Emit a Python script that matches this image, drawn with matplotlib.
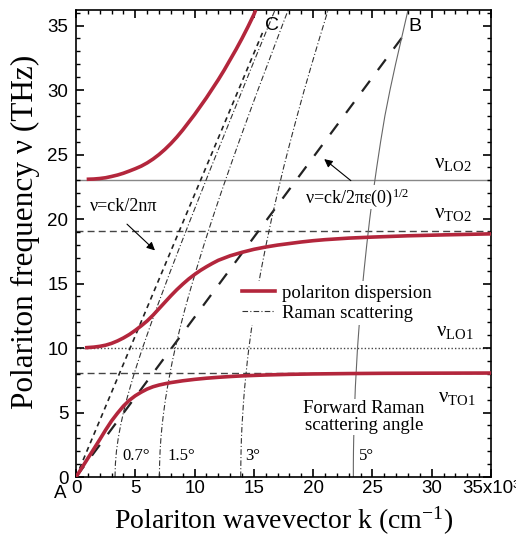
import matplotlib
matplotlib.use("Agg")
import matplotlib.pyplot as plt
from matplotlib.ticker import MultipleLocator, FixedLocator, FixedFormatter

plt.rcParams['font.family'] = ['Liberation Serif', 'DejaVu Serif']
plt.rcParams['mathtext.fontset'] = 'custom'
plt.rcParams['mathtext.rm'] = 'Liberation Serif'
plt.rcParams['mathtext.it'] = 'Liberation Serif:italic'

# phonon frequencies (THz)
nu_to1, nu_lo1, nu_to2, nu_lo2 = 8.1, 10.0, 19.1, 23.0

# polariton branches: k in 10^3 cm^-1, nu in THz
k_low = [0, 0.5, 1, 1.5, 2, 2.5, 3, 3.5, 4, 4.5, 5, 5.5, 6, 6.5, 7, 7.5, 8, 9, 10,
         11, 12, 13, 14, 16, 18, 20, 23, 26, 30, 35]
nu_low = [0, 0.72, 1.45, 2.17, 2.9, 3.65, 4.35, 4.95, 5.5, 5.95, 6.3, 6.58, 6.82, 7.0,
          7.13, 7.23, 7.32, 7.46, 7.57, 7.66, 7.73, 7.79, 7.84, 7.91, 7.96, 7.99, 8.02,
          8.04, 8.05, 8.06]

k_mid = [0.76, 1.5, 2, 2.5, 3, 3.5, 4, 4.5, 5, 5.5, 6, 6.5, 7, 7.5, 8, 8.5, 9, 9.5, 10,
         10.5, 11, 11.5, 12, 13, 14, 15, 16, 17, 18, 19, 20, 21, 23, 25, 28, 31, 35]
nu_mid = [10.02, 10.07, 10.13, 10.22, 10.36, 10.55, 10.78, 11.05, 11.37, 11.72, 12.1,
          12.55, 13.05, 13.55, 14.05, 14.52, 14.95, 15.35, 15.7, 16.02, 16.3, 16.56,
          16.8, 17.15, 17.42, 17.65, 17.83, 17.98, 18.1, 18.22, 18.32, 18.4, 18.52,
          18.6, 18.7, 18.77, 18.85]

k_up = [0.9, 1.5, 2, 2.5, 3, 3.5, 4, 4.5, 5, 5.5, 6, 6.5, 7, 7.5, 8, 8.5, 9, 9.5, 10,
        10.5, 11, 11.5, 12, 12.5, 13, 13.5, 14, 14.5, 15.0, 15.15]
nu_up = [23.08, 23.1, 23.14, 23.2, 23.3, 23.41, 23.55, 23.72, 23.9, 24.1, 24.35, 24.65,
         25.0, 25.4, 25.85, 26.35, 26.9, 27.5, 28.1, 28.75, 29.4, 30.1, 30.8, 31.55,
         32.35, 33.15, 34.0, 34.9, 35.85, 36.2]

# light lines through A
k_ac = [0, 15.8]
nu_ac = [0, 34.6]
k_ab = [0, 28.0]
nu_ab = [0, 34.7]

# forward Raman scattering curves
raman_nu = [0, 1, 2, 3, 4, 5, 6, 7, 8, 9, 10, 11.5, 13, 14.5, 16, 18, 20, 22, 24, 26,
            28, 30, 32, 34, 36.2]
k_r07 = [3.29, 3.32, 3.41, 3.56, 3.76, 4.0, 4.27, 4.58, 4.9, 5.25, 5.61, 6.18, 6.76,
         7.37, 7.98, 8.82, 9.67, 10.53, 11.39, 12.27, 13.15, 14.03, 14.91, 15.8, 16.78]
k_r15 = [7.03, 7.05, 7.09, 7.16, 7.26, 7.39, 7.54, 7.72, 7.92, 8.13, 8.37, 8.76, 9.18,
         9.64, 10.12, 10.79, 11.49, 12.22, 12.98, 13.75, 14.54, 15.34, 16.16, 16.98, 17.89]
k_r3 = [13.89, 13.9, 13.92, 13.95, 14.0, 14.07, 14.14, 14.23, 14.34, 14.45, 14.58, 14.8,
        15.04, 15.31, 15.6, 16.03, 16.49, 16.99, 17.51, 18.07, 18.65, 19.25, 19.88,
        20.53, 21.26]
k_r5 = [23.39, 23.39, 23.4, 23.42, 23.45, 23.48, 23.52, 23.56, 23.62, 23.68, 23.74,
        23.86, 23.98, 24.13, 24.29, 24.52, 24.77, 25.05, 25.36, 25.69, 26.05, 26.48,
        26.95, 27.45, 28.0]

angle_labels = ['0.7°', '1.5°', '3°', '5°']
angle_k = [5.06, 8.86, 14.93, 24.46]

red = '#b3263c'
raman_dash = (0, (5, 2, 1, 2))

fig = plt.figure(figsize=(5.16, 5.37), dpi=100)
ax = fig.add_axes([0.1473, 0.1117, 0.8043, 0.8696])

ax.axhline(nu_to1, color='#444444', lw=1.0, ls=(0, (5, 3)), zorder=1)
ax.axhline(nu_lo1, color='#444444', lw=1.0, ls=(0, (1, 1.5)), zorder=1)
ax.axhline(nu_to2, color='#444444', lw=1.0, ls=(0, (5, 3)), zorder=1)
ax.axhline(nu_lo2, color='#888888', lw=1.0, zorder=1)

ax.plot(k_ac, nu_ac, color='#222222', lw=1.2, ls=(0, (3, 2.5)), zorder=2)
ax.plot(k_ab, nu_ab, color='#222222', lw=1.6, ls=(0, (6, 6)), zorder=2)

for kk in [k_r07, k_r15, k_r3]:
    ax.plot(kk, raman_nu, color='#333333', lw=0.8, ls=raman_dash, zorder=2)
ax.plot(k_r5, raman_nu, color='#666666', lw=0.8, zorder=2)

for kk, nn in [(k_low, nu_low), (k_mid, nu_mid), (k_up, nu_up)]:
    ax.plot(kk, nn, color=red, lw=2.6, solid_capstyle='butt', zorder=3)

# legend with an opaque box so the lines behind it are hidden
h1, = ax.plot([], [], color=red, lw=2.6)
h2, = ax.plot([], [], color='#333333', lw=0.8, ls=raman_dash)
leg = ax.legend([h1, h2], ['polariton dispersion', 'Raman scattering'],
                loc='upper left', bbox_to_anchor=(0.39, 0.42), fontsize=13.5,
                handlelength=1.8, handletextpad=0.35, labelspacing=0.15,
                borderpad=0.2, borderaxespad=0, frameon=True, fancybox=False)
leg.get_frame().set_edgecolor('none')
leg.get_frame().set_facecolor('white')
leg.get_frame().set_alpha(1)
leg.set_zorder(5)

for lab, kx in zip(angle_labels, angle_k):
    ax.text(kx, 1.63, lab, fontsize=12, ha='center', va='center', zorder=4)

ax.text(24.29, 4.65, 'Forward Raman\nscattering angle', fontsize=13.5, ha='center',
        va='center', linespacing=1.0, zorder=4,
        bbox=dict(facecolor='white', edgecolor='none', pad=1))

ax.text(1.18, 20.95, 'ν=ck/2nπ', fontsize=13, ha='left', va='center', zorder=4)
ax.annotate('', xy=(6.83, 17.42), xytext=(4.13, 19.75),
            arrowprops=dict(arrowstyle='-|>', color='black', lw=0.8, mutation_scale=12))
ax.text(19.31, 21.68, r'ν=ck/2πε(0)$^{1/2}$', fontsize=13, ha='left', va='center', zorder=4,
        bbox=dict(facecolor='white', edgecolor='none', pad=0.5))
ax.annotate('', xy=(20.75, 24.78), xytext=(23.36, 22.84),
            arrowprops=dict(arrowstyle='-|>', color='black', lw=0.8, mutation_scale=12))

ax.text(31.8, 24.3, r'ν$_{\mathrm{LO2}}$', fontsize=15, ha='center', va='center')
ax.text(31.8, 20.44, r'ν$_{\mathrm{TO2}}$', fontsize=15, ha='center', va='center')
ax.text(31.96, 11.3, r'ν$_{\mathrm{LO1}}$', fontsize=15, ha='center', va='center')
ax.text(32.13, 6.2, r'ν$_{\mathrm{TO1}}$', fontsize=15, ha='center', va='center')

ax.text(16.53, 35.0, 'C', fontsize=14, family='Liberation Sans', ha='center', va='center')
ax.text(28.6, 34.9, 'B', fontsize=14, family='Liberation Sans', ha='center', va='center')
ax.text(-1.35, -1.3, 'A', fontsize=13.5, family='Liberation Sans', ha='center', va='center',
        clip_on=False)

ax.set_xlim(0, 35)
ax.set_ylim(0, 36.2)
ax.xaxis.set_major_locator(FixedLocator([0, 5, 10, 15, 20, 25, 30, 35]))
ax.xaxis.set_major_formatter(FixedFormatter(['0', '5', '10', '15', '20', '25', '30', '35x10³']))
ax.xaxis.set_minor_locator(MultipleLocator(1))
ax.yaxis.set_major_locator(MultipleLocator(5))
ax.yaxis.set_minor_locator(MultipleLocator(1))
ax.tick_params(which='both', direction='in', top=True, right=True)
ax.tick_params(which='major', length=6, width=1.2)
ax.tick_params(which='minor', length=3, width=1.0)
ax.tick_params(axis='x', pad=2.5)
ax.tick_params(axis='y', pad=5.5)
for lab in ax.get_xticklabels() + ax.get_yticklabels():
    lab.set_fontfamily('Liberation Sans')
    lab.set_fontsize(13.5)
for sp in ax.spines.values():
    sp.set_linewidth(1.2)

ax.set_xlabel(r'Polariton wavevector k (cm$^{\mathrm{-1}}$)', fontsize=20, labelpad=5)
fig.text(25 / 516, 1 - 232 / 537, 'Polariton frequency ν (THz)', fontsize=22.5,
         rotation=90, ha='center', va='center')

fig.savefig('out.png', dpi=100)
